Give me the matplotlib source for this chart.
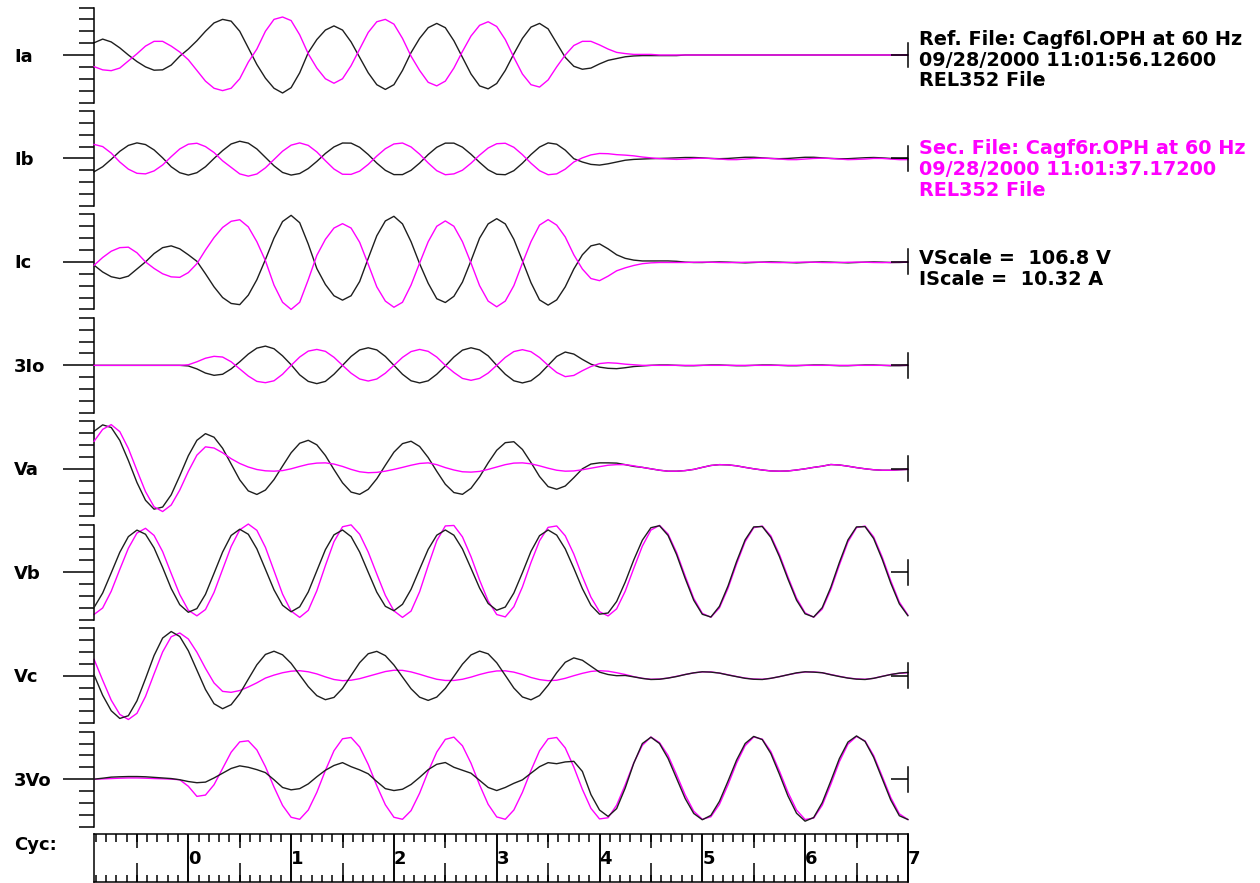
import numpy as np
import matplotlib
matplotlib.use('Agg')
import matplotlib.pyplot as plt
import matplotlib.transforms as mtransforms
from matplotlib.ticker import MultipleLocator

# time base: 12 samples per cycle, record starts 11/12 cycle before t=0
cycles = np.arange(-11, 85) / 12.0

channels = ['Ia', 'Ib', 'Ic', '3Io', 'Va', 'Vb', 'Vc', '3Vo']

# values in scale divisions (8 divisions per channel), one row = one cycle
ia_ref = [1.03, 1.34, 1.1, 0.6, 0.0, -0.55, -1.0, -1.28, -1.25, -0.85, -0.1, 0.5,
          1.2, 2.0, 2.7, 3.0, 2.85, 2.0, 0.6, -0.8, -1.95, -2.8, -3.2, -2.75,
          -1.5, 0.2, 1.3, 2.1, 2.45, 2.1, 1.1, -0.2, -1.5, -2.5, -2.9, -2.5,
          -1.3, 0.2, 1.4, 2.3, 2.66, 2.3, 1.2, -0.2, -1.6, -2.6, -2.85, -2.4,
          -1.3, 0.1, 1.4, 2.35, 2.66, 2.2, 1.0, -0.2, -0.95, -1.2, -1.1, -0.75,
          -0.45, -0.3, -0.15, -0.08, -0.05, -0.05, -0.05, -0.05, -0.05, 0, 0, 0,
          0, 0, 0, 0, 0, 0, 0, 0, 0, 0, 0, 0,
          0, 0, 0, 0, 0, 0, 0, 0, 0, 0, 0, 0]
ia_sec = [-0.98, -1.25, -1.32, -1.1, -0.5, 0.1, 0.75, 1.15, 1.15, 0.75, 0.25, -0.4,
          -1.3, -2.2, -2.8, -3.0, -2.8, -2.0, -0.6, 0.5, 2.0, 3.0, 3.2, 2.9,
          1.7, 0.1, -1.1, -2.0, -2.38, -2.0, -0.9, 0.5, 1.9, 2.8, 3.0, 2.6,
          1.4, -0.1, -1.3, -2.3, -2.6, -2.2, -1.1, 0.3, 1.6, 2.5, 2.8, 2.4,
          1.3, -0.2, -1.6, -2.5, -2.7, -2.1, -1.0, 0.0, 0.8, 1.15, 1.15, 0.85,
          0.5, 0.22, 0.12, 0.05, 0.05, 0.05, 0, 0, 0, 0, 0, 0,
          0, 0, 0, 0, 0, 0, 0, 0, 0, 0, 0, 0,
          0, 0, 0, 0, 0, 0, 0, 0, 0, 0, 0, 0]

ib_ref = [-1.12, -0.7, -0.07, 0.6, 1.1, 1.31, 1.17, 0.72, 0.05, -0.7, -1.2, -1.4,
          -1.2, -0.7, 0.0, 0.66, 1.22, 1.45, 1.29, 0.8, 0.09, -0.62, -1.18, -1.4,
          -1.27, -0.85, -0.25, 0.42, 0.97, 1.3, 1.29, 0.94, 0.33, -0.39, -1.0, -1.36,
          -1.36, -1.0, -0.39, 0.33, 0.94, 1.29, 1.29, 0.95, 0.35, -0.33, -0.96, -1.33,
          -1.37, -1.03, -0.4, 0.33, 0.96, 1.31, 1.2, 0.7, -0.02, -0.3, -0.5, -0.56,
          -0.45, -0.3, -0.15, -0.08, -0.05, -0.02, 0.0, 0.02, 0.05, 0.08, 0.08, 0.05,
          0.0, -0.02, 0.0, 0.05, 0.1, 0.1, 0.05, 0.0, -0.02, 0.0, 0.05, 0.1,
          0.1, 0.05, 0.0, -0.02, -0.02, 0.02, 0.06, 0.08, 0.05, 0.0, -0.02, 0.0]
ib_sec = [1.18, 1.0, 0.45, -0.3, -0.9, -1.25, -1.3, -1.05, -0.55, 0.15, 0.8, 1.2,
          1.28, 1.0, 0.5, -0.2, -0.75, -1.3, -1.49, -1.31, -0.79, -0.09, 0.61, 1.12,
          1.31, 1.1, 0.55, -0.19, -0.89, -1.33, -1.34, -1.07, -0.5, 0.2, 0.82, 1.22,
          1.3, 0.97, 0.36, -0.38, -1.03, -1.37, -1.3, -0.99, -0.4, 0.28, 0.88, 1.24,
          1.28, 0.94, 0.32, -0.4, -1.03, -1.37, -1.3, -0.9, -0.3, 0.05, 0.3, 0.42,
          0.4, 0.32, 0.28, 0.22, 0.12, 0.05, -0.02, -0.05, -0.08, -0.05, 0.0, 0.02,
          0.0, -0.05, -0.1, -0.1, -0.05, 0.0, 0.02, 0.0, -0.05, -0.1, -0.1, -0.05,
          0.0, 0.02, 0.0, -0.05, -0.1, -0.08, -0.05, 0.0, 0.0, -0.05, -0.1, -0.1]

ic_ref = [-0.28, -0.85, -1.25, -1.4, -1.2, -0.6, 0.0, 0.7, 1.2, 1.35, 1.1, 0.6,
          0.05, -1.0, -2.1, -3.0, -3.5, -3.6, -2.8, -1.5, 0.2, 2.0, 3.4, 3.92,
          3.3, 1.5, -0.56, -1.9, -2.85, -3.22, -2.85, -1.65, 0.3, 2.2, 3.45, 3.84,
          3.2, 1.7, -0.15, -1.8, -3.1, -3.42, -2.9, -1.7, 0.1, 2.0, 3.2, 3.64,
          3.2, 1.9, 0.1, -1.75, -3.2, -3.64, -3.2, -2.1, -0.6, 0.6, 1.35, 1.52,
          1.1, 0.6, 0.3, 0.15, 0.08, 0.08, 0.08, 0.08, 0.05, -0.02, -0.05, -0.05,
          -0.02, 0.0, -0.02, -0.05, -0.08, -0.05, -0.02, 0.0, -0.02, -0.05, -0.08, -0.05,
          -0.02, 0.0, -0.02, -0.05, -0.08, -0.05, -0.02, 0.0, -0.02, -0.05, -0.05, -0.02]
ic_sec = [-0.28, 0.37, 0.9, 1.2, 1.24, 0.77, 0.0, -0.55, -1.0, -1.26, -1.3, -0.9,
          -0.15, 1.0, 2.05, 2.9, 3.42, 3.55, 2.95, 1.7, 0.1, -1.95, -3.4, -4.0,
          -3.4, -1.5, 0.55, 1.9, 2.85, 3.22, 2.85, 1.65, -0.2, -2.1, -3.3, -3.82,
          -3.4, -1.95, -0.1, 1.7, 3.0, 3.45, 3.0, 1.7, -0.1, -2.0, -3.3, -3.78,
          -3.3, -2.0, -0.1, 1.7, 3.1, 3.56, 3.1, 2.1, 0.6, -0.6, -1.4, -1.58,
          -1.2, -0.75, -0.5, -0.3, -0.15, -0.08, -0.05, -0.05, -0.05, -0.05, -0.03, -0.02,
          -0.03, -0.05, -0.06, -0.05, -0.03, -0.02, -0.03, -0.05, -0.06, -0.05, -0.03, -0.02,
          -0.03, -0.05, -0.06, -0.05, -0.03, -0.02, -0.03, -0.05, -0.06, -0.05, -0.03, -0.02]

i0_ref = [0, 0, 0, 0, 0, 0, 0, 0, 0, 0, 0, -0.05,
          -0.3, -0.65, -0.84, -0.75, -0.3, 0.3, 0.95, 1.45, 1.62, 1.4, 0.8, 0.05,
          -0.8, -1.35, -1.54, -1.35, -0.75, 0.0, 0.75, 1.3, 1.48, 1.3, 0.75, 0.0,
          -0.75, -1.3, -1.48, -1.3, -0.75, -0.05, 0.7, 1.28, 1.48, 1.3, 0.8, 0.0,
          -0.75, -1.3, -1.48, -1.3, -0.75, 0.0, 0.75, 1.12, 0.95, 0.5, 0.1, -0.15,
          -0.25, -0.28, -0.2, -0.1, -0.05, 0.0, 0.03, 0.03, 0.0, -0.03, -0.03, 0.0,
          0.03, 0.03, 0.0, -0.03, -0.03, 0.0, 0.03, 0.03, 0.0, -0.03, -0.03, 0.0,
          0.03, 0.03, 0.0, -0.03, -0.03, 0.0, 0.03, 0.03, 0.0, -0.03, -0.03, 0.0]
i0_sec = [0, 0, 0, 0, 0, 0, 0, 0, 0, 0, 0, 0.05,
          0.3, 0.6, 0.76, 0.7, 0.3, -0.3, -0.9, -1.35, -1.46, -1.3, -0.75, 0.0,
          0.7, 1.2, 1.34, 1.18, 0.68, 0.0, -0.66, -1.15, -1.32, -1.15, -0.66, 0.0,
          0.67, 1.16, 1.34, 1.18, 0.7, 0.0, -0.6, -1.1, -1.26, -1.1, -0.65, 0.0,
          0.67, 1.16, 1.32, 1.15, 0.66, 0.0, -0.6, -0.95, -0.85, -0.45, -0.1, 0.15,
          0.22, 0.18, 0.1, 0.05, 0.0, 0.0, 0, 0, 0, 0, 0, 0,
          0, 0, 0, 0, 0, 0, 0, 0, 0, 0, 0, 0,
          0, 0, 0, 0, 0, 0, 0, 0, 0, 0, 0, 0]

va_ref = [3.16, 3.7, 3.48, 2.39, 0.7, -1.15, -2.65, -3.4, -3.22, -2.19, -0.59, 1.1,
          2.4, 2.96, 2.66, 1.73, 0.4, -0.93, -1.86, -2.16, -1.79, -0.91, 0.23, 1.35,
          2.15, 2.4, 2.02, 1.12, -0.06, -1.18, -1.96, -2.15, -1.73, -0.84, 0.3, 1.4,
          2.12, 2.32, 1.88, 0.95, -0.21, -1.3, -2.0, -2.15, -1.64, -0.68, 0.5, 1.56,
          2.2, 2.28, 1.63, 0.53, -0.65, -1.5, -1.72, -1.45, -0.75, 0.0, 0.4, 0.5,
          0.5, 0.48, 0.35, 0.2, 0.12, 0.0, -0.12, -0.2, -0.2, -0.15, -0.05, 0.12,
          0.28, 0.35, 0.33, 0.25, 0.12, 0.0, -0.1, -0.18, -0.2, -0.18, -0.1, 0.0,
          0.12, 0.22, 0.36, 0.32, 0.22, 0.1, 0.0, -0.08, -0.12, -0.12, -0.08, -0.05]
va_sec = [2.32, 3.32, 3.72, 3.13, 1.71, -0.13, -1.92, -3.2, -3.6, -3.05, -1.79, -0.22,
          1.15, 1.85, 1.75, 1.35, 0.85, 0.45, 0.15, -0.06, -0.17, -0.2, -0.15, 0.0,
          0.2, 0.38, 0.48, 0.5, 0.4, 0.2, -0.05, -0.25, -0.33, -0.3, -0.2, -0.05,
          0.12, 0.3, 0.45, 0.5, 0.35, 0.1, -0.1, -0.25, -0.28, -0.22, -0.05, 0.15,
          0.35, 0.48, 0.5, 0.42, 0.25, 0.05, -0.12, -0.2, -0.18, -0.08, 0.05, 0.18,
          0.3, 0.35, 0.35, 0.25, 0.12, 0.0, -0.12, -0.2, -0.2, -0.15, -0.05, 0.12,
          0.28, 0.35, 0.33, 0.25, 0.12, 0.0, -0.1, -0.18, -0.2, -0.18, -0.1, 0.0,
          0.12, 0.22, 0.36, 0.32, 0.22, 0.1, 0.0, -0.08, -0.12, -0.12, -0.08, -0.05]

vb_ref = [-2.96, -1.75, -0.05, 1.68, 3.0, 3.55, 3.2, 2.05, 0.4, -1.37, -2.73, -3.37,
          -3.06, -1.86, -0.09, 1.7, 3.1, 3.62, 3.2, 1.97, 0.25, -1.48, -2.78, -3.33,
          -2.91, -1.66, 0.12, 1.9, 3.15, 3.56, 3.0, 1.7, 0.0, -1.68, -2.87, -3.24,
          -2.7, -1.44, 0.26, 1.93, 3.12, 3.56, 3.12, 1.96, 0.33, -1.33, -2.63, -3.2,
          -2.93, -1.75, -0.04, 1.76, 3.08, 3.56, 3.13, 1.97, 0.34, -1.38, -2.78, -3.53,
          -3.43, -2.46, -0.83, 1.04, 2.7, 3.75, 3.92, 3.1, 1.48, -0.52, -2.36, -3.54,
          -3.77, -2.87, -1.16, 0.9, 2.73, 3.82, 3.85, 2.93, 1.32, -0.58, -2.35, -3.5,
          -3.77, -2.98, -1.27, 0.82, 2.72, 3.82, 3.84, 2.84, 1.09, -0.92, -2.66, -3.66]
vb_sec = [-3.55, -3.01, -1.6, 0.24, 2.02, 3.3, 3.7, 3.1, 1.74, -0.1, -1.88, -3.2,
          -3.67, -3.14, -1.7, 0.24, 2.17, 3.57, 4.06, 3.53, 2.1, 0.13, -1.84, -3.27,
          -3.8, -3.21, -1.56, 0.56, 2.57, 3.83, 3.99, 3.2, 1.7, -0.15, -1.95, -3.25,
          -3.8, -3.27, -1.64, 0.56, 2.65, 3.9, 3.94, 2.98, 1.31, -0.66, -2.42, -3.56,
          -3.76, -2.9, -1.24, 0.82, 2.65, 3.78, 3.9, 3.07, 1.53, -0.36, -2.1, -3.32,
          -3.68, -3.08, -1.6, 0.33, 2.2, 3.55, 3.95, 3.22, 1.66, -0.32, -2.2, -3.46,
          -3.79, -3.0, -1.35, 0.7, 2.58, 3.75, 3.89, 3.06, 1.5, -0.4, -2.18, -3.42,
          -3.79, -3.1, -1.46, 0.61, 2.55, 3.76, 3.89, 2.98, 1.28, -0.72, -2.51, -3.6]

vc_ref = [0.06, -1.65, -2.95, -3.6, -3.37, -2.12, -0.25, 1.7, 3.17, 3.72, 3.3, 2.1,
          0.47, -1.16, -2.36, -2.78, -2.44, -1.52, -0.29, 0.92, 1.79, 2.06, 1.76, 1.04,
          0.06, -0.92, -1.68, -2.02, -1.83, -1.07, 0.02, 1.1, 1.85, 2.05, 1.69, 0.9,
          -0.11, -1.1, -1.81, -2.08, -1.8, -1.07, -0.06, 0.97, 1.75, 2.07, 1.84, 1.09,
          0.03, -1.04, -1.79, -2.03, -1.67, -0.8, 0.25, 1.13, 1.5, 1.3, 0.8, 0.3,
          0.1, 0.0, 0.02, -0.1, -0.23, -0.32, -0.3, -0.2, -0.07, 0.1, 0.24, 0.33,
          0.3, 0.22, 0.06, -0.08, -0.22, -0.3, -0.32, -0.22, -0.08, 0.08, 0.24, 0.33,
          0.3, 0.25, 0.08, -0.07, -0.2, -0.29, -0.32, -0.22, -0.06, 0.1, 0.22, 0.28]
vc_sec = [1.37, -0.38, -2.06, -3.26, -3.69, -3.17, -1.75, 0.15, 2.0, 3.28, 3.6, 3.09,
          1.98, 0.62, -0.61, -1.32, -1.4, -1.25, -0.95, -0.6, -0.2, 0.05, 0.25, 0.38,
          0.42, 0.33, 0.15, -0.1, -0.32, -0.42, -0.38, -0.25, -0.05, 0.15, 0.35, 0.46,
          0.45, 0.32, 0.12, -0.1, -0.3, -0.4, -0.4, -0.3, -0.12, 0.1, 0.28, 0.4,
          0.41, 0.3, 0.1, -0.15, -0.33, -0.42, -0.38, -0.22, 0.0, 0.2, 0.36, 0.42,
          0.38, 0.25, 0.1, -0.08, -0.22, -0.3, -0.28, -0.2, -0.05, 0.1, 0.24, 0.32,
          0.32, 0.22, 0.08, -0.07, -0.2, -0.28, -0.3, -0.22, -0.08, 0.08, 0.22, 0.31,
          0.32, 0.25, 0.1, -0.05, -0.19, -0.27, -0.3, -0.22, -0.05, 0.1, 0.2, 0.25]

v0_ref = [0.0, 0.08, 0.17, 0.2, 0.22, 0.22, 0.2, 0.15, 0.1, 0.05, -0.05, -0.2,
          -0.3, -0.25, 0.1, 0.5, 0.9, 1.12, 1.0, 0.8, 0.55, -0.05, -0.7, -0.9,
          -0.8, -0.4, 0.2, 0.75, 1.15, 1.39, 1.05, 0.78, 0.45, -0.2, -0.8, -0.96,
          -0.85, -0.45, 0.15, 0.8, 1.25, 1.4, 1.0, 0.75, 0.5, -0.1, -0.7, -0.96,
          -0.7, -0.35, -0.06, 0.5, 1.05, 1.39, 1.3, 1.45, 1.5, 0.65, -1.3, -2.6,
          -3.14, -2.48, -0.75, 1.34, 3.0, 3.53, 3.0, 1.75, 0.06, -1.63, -2.89, -3.42,
          -3.05, -1.87, -0.17, 1.6, 3.0, 3.6, 3.33, 2.16, 0.42, -1.42, -2.87, -3.54,
          -3.23, -1.98, -0.16, 1.73, 3.12, 3.64, 3.17, 1.84, 0.04, -1.76, -3.08, -3.4]
v0_sec = [0.0, 0.02, 0.05, 0.08, 0.1, 0.1, 0.08, 0.05, 0.03, 0.0, -0.05, -0.6,
          -1.45, -1.34, -0.47, 0.9, 2.27, 3.14, 3.23, 2.46, 1.05, -0.66, -2.21, -3.21,
          -3.38, -2.6, -1.11, 0.73, 2.39, 3.4, 3.51, 2.71, 1.24, -0.55, -2.16, -3.21,
          -3.38, -2.65, -1.18, 0.64, 2.28, 3.35, 3.54, 2.81, 1.34, -0.48, -2.12, -3.18,
          -3.38, -2.6, -1.11, 0.73, 2.39, 3.4, 3.51, 2.63, 1.02, -0.86, -2.46, -3.35,
          -3.25, -2.19, -0.48, 1.37, 2.85, 3.55, 3.08, 2.0, 0.37, -1.33, -2.7, -3.38,
          -3.17, -2.12, -0.47, 1.35, 2.82, 3.55, 3.37, 2.33, 0.69, -1.11, -2.6, -3.4,
          -3.28, -2.2, -0.44, 1.47, 2.95, 3.59, 3.22, 1.99, 0.24, -1.55, -2.92, -3.4]

ref_data = [ia_ref, ib_ref, ic_ref, i0_ref, va_ref, vb_ref, vc_ref, v0_ref]
sec_data = [ia_sec, ib_sec, ic_sec, i0_sec, va_sec, vb_sec, vc_sec, v0_sec]
sec_on_top = ['Ia', 'Ib', 'Ic', '3Io', 'Va']

ref_info = ['Ref. File: Cagf6l.OPH at 60 Hz', '09/28/2000 11:01:56.12600', 'REL352 File']
sec_info = ['Sec. File: Cagf6r.OPH at 60 Hz', '09/28/2000 11:01:37.17200', 'REL352 File']
scale_info = ['VScale =  106.8 V', 'IScale =  10.32 A']
cycle_labels = [0, 1, 2, 3, 4, 5, 6, 7]

BLACK = '#1e1e1e'
MAGENTA = '#ff00ff'
W, H = 1260, 883
fig = plt.figure(figsize=(W / 100, H / 100), dpi=100)
fig.patch.set_facecolor('white')

x_left, x_right = 94.1, 907.9
pitch = 103.45
font = dict(family='DejaVu Sans', fontweight='bold')

for i, name in enumerate(channels):
    cy = 55 + pitch * i
    ax = fig.add_axes([x_left / W, 1 - (cy + 47.5) / H, (x_right - x_left) / W, 95 / H])
    ax.set_xlim(cycles[0], 7.0)
    ax.set_ylim(-4, 4)
    ax.patch.set_visible(False)
    for s in ['top', 'right', 'bottom']:
        ax.spines[s].set_visible(False)
    ax.spines['left'].set_linewidth(1.1)
    ax.tick_params(axis='x', bottom=False, labelbottom=False)
    ax.set_yticks([0])
    ax.set_yticks([-4, -3, -2, -1, 1, 2, 3, 4], minor=True)
    ax.tick_params(axis='y', which='major', length=22.3, width=1.1, direction='out', labelleft=False)
    ax.tick_params(axis='y', which='minor', length=10.8, width=1.1, direction='out')

    z_sec = 3 if name in sec_on_top else 2
    ax.plot(cycles, ref_data[i], color=BLACK, lw=1.0, zorder=5 - z_sec, clip_on=False)
    ax.plot(cycles, sec_data[i], color=MAGENTA, lw=1.0, zorder=z_sec, clip_on=False)

    # end-of-record marker on the right
    ax2 = ax.twinx()
    ax2.set_ylim(-4, 4)
    for s in ['top', 'left', 'bottom']:
        ax2.spines[s].set_visible(False)
    ax2.spines['right'].set_bounds(-1.05, 1.05)
    ax2.spines['right'].set_linewidth(1.1)
    ax2.set_yticks([0])
    ax2.tick_params(axis='y', direction='in', length=12.2, width=1.1, labelright=False)

    fig.text(14 / W, 1 - (cy + 6.5) / H, name, fontsize=13, va='baseline', **font)

# cycle ruler
rax = fig.add_axes([x_left / W, 1 - 882 / H, (x_right - x_left) / W, 48 / H])
rax.set_xlim(cycles[0], 7.0)
rax.set_ylim(0, 1)
for s in rax.spines.values():
    s.set_linewidth(1.1)
rax.set_yticks([])
rax.xaxis.set_major_locator(MultipleLocator(1.0))
rax.xaxis.set_minor_locator(MultipleLocator(0.1))
rax.tick_params(axis='x', which='both', top=True, bottom=True, direction='in',
                labelbottom=False, width=1.1)
rax.tick_params(axis='x', which='major', length=34.6)
rax.tick_params(axis='x', which='minor', length=5.4)
halves = np.arange(-0.5, 7.0, 1.0)
rax.vlines(halves, 0, 0.4, color='black', lw=1.1)
rax.vlines(halves, 0.7, 1.0, color='black', lw=1.1)
trans = mtransforms.blended_transform_factory(rax.transData, rax.transAxes)
for c in cycle_labels:
    rax.text(c, 0.38, str(c), transform=trans, fontsize=13, ha='left', va='baseline',
             clip_on=False, **font)
fig.text(14 / W, 1 - 850 / H, 'Cyc:', fontsize=13, va='baseline', **font)

# file information on the right
tx = 919 / W
for line, yb in zip(ref_info, [45, 65.5, 86]):
    fig.text(tx, 1 - yb / H, line, fontsize=13.9, va='baseline', color='black', **font)
for line, yb in zip(sec_info, [154, 175, 196]):
    fig.text(tx, 1 - yb / H, line, fontsize=13.9, va='baseline', color=MAGENTA, **font)
for line, yb in zip(scale_info, [264, 285]):
    fig.text(tx, 1 - yb / H, line, fontsize=13.9, va='baseline', color='black', **font)

fig.savefig('out.png', dpi=100, facecolor='white')
